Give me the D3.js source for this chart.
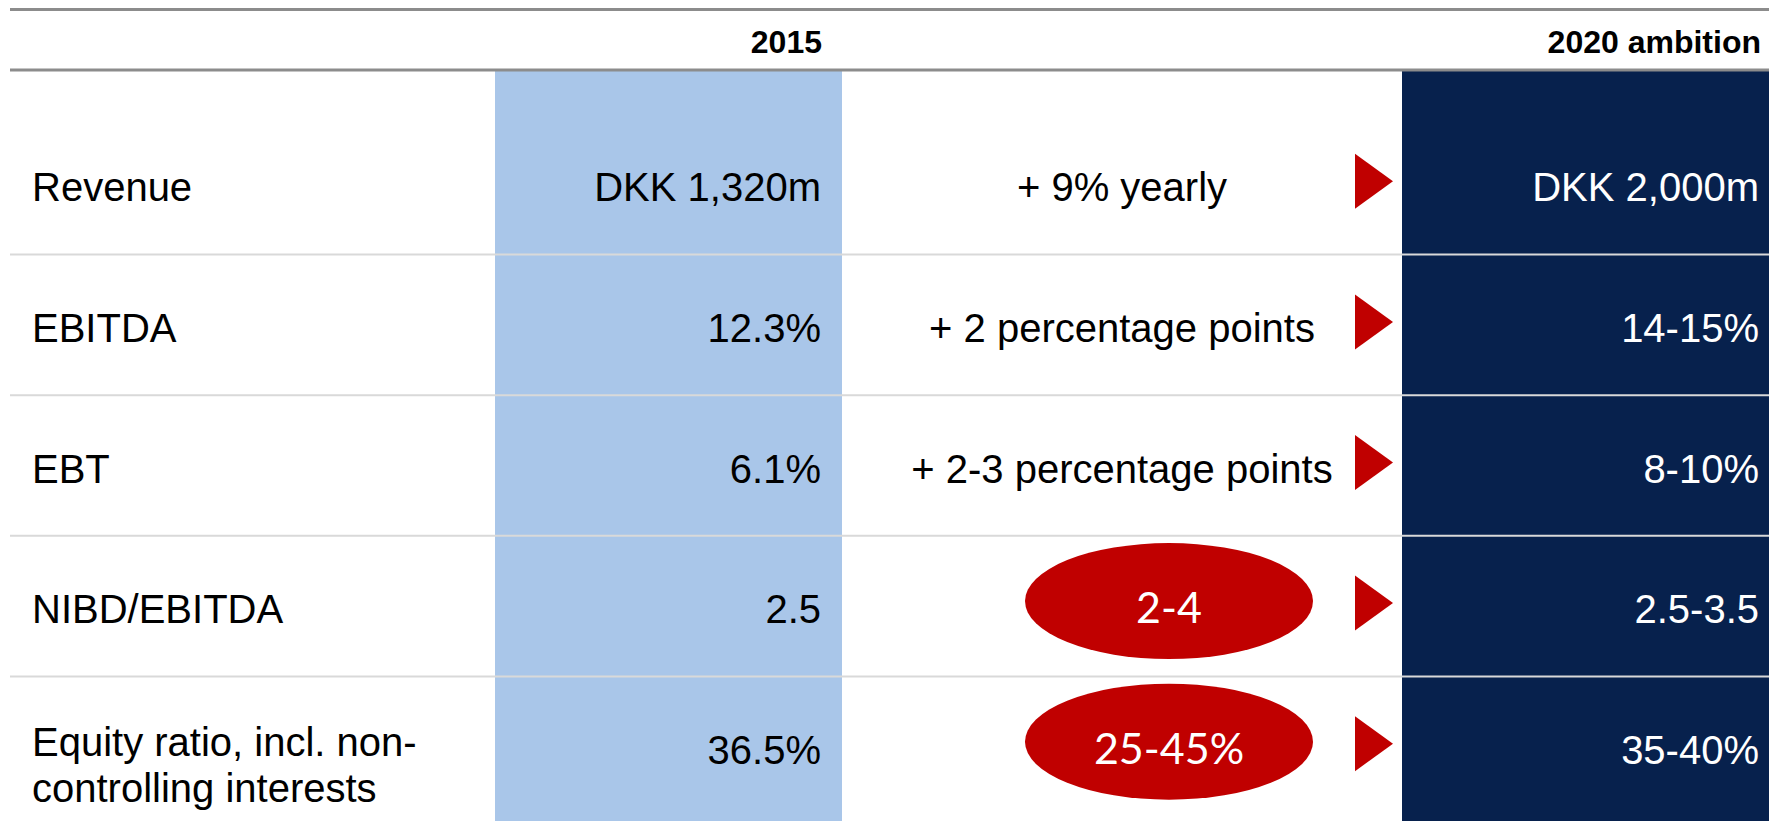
<!DOCTYPE html>
<html>
<head>
<meta charset="utf-8">
<script src="https://cdn.jsdelivr.net/npm/d3@7"></script>
<style>
  html, body { margin: 0; padding: 0; background: #ffffff; }
  svg { display: block; }
</style>
</head>
<body>
<svg id="chart" width="1769" height="821"></svg>
<script>
// ---- data ----
const rows = ["Revenue", "EBITDA", "EBT", "NIBD/EBITDA", "Equity"];
const rowLabels = [
  ["Revenue"],
  ["EBITDA"],
  ["EBT"],
  ["NIBD/EBITDA"],
  ["Equity ratio, incl. non-", "controlling interests"]
];
const columnHeaders = ["2015", "2020 ambition"];
const values2015 = ["DKK 1,320m", "12.3%", "6.1%", "2.5", "36.5%"];
const changes = ["+ 9% yearly", "+ 2 percentage points", "+ 2-3 percentage points", "2-4", "25-45%"];
const changeIsRange = [false, false, false, true, true];
const ambition2020 = ["DKK 2,000m", "14-15%", "8-10%", "2.5-3.5", "35-40%"];

// ---- layout ----
const W = 1769, H = 821;
const svg = d3.select("#chart");

const y = d3.scaleBand().domain(rows).range([114, 817]).padding(0);
const x = d3.scaleOrdinal()
  .domain(["ruleStart", "label", "col2015L", "col2015R", "mid", "range", "arrowL", "arrowR", "col2020L", "col2020R"])
  .range([10, 32, 495, 842, 1122, 1169, 1355, 1393, 1402, W]);

const headerY = 70, topY = 9.5;
const C = {
  rule: "#8c8c8c", sep: "#d9d9d9", light: "#a9c6e9", navy: "#07214d", red: "#c00000"
};
const FONT = "'Liberation Sans', Arial, sans-serif";

// column fills
svg.append("rect")
  .attr("x", x("col2015L")).attr("y", headerY)
  .attr("width", x("col2015R") - x("col2015L")).attr("height", H - headerY)
  .attr("fill", C.light);
svg.append("rect")
  .attr("x", x("col2020L")).attr("y", headerY)
  .attr("width", x("col2020R") - x("col2020L")).attr("height", H - headerY)
  .attr("fill", C.navy);

// row separators
const seps = rows.slice(1).map(r => y(r));
svg.selectAll("line.sep").data(seps).join("line")
  .attr("class", "sep")
  .attr("x1", x("ruleStart")).attr("x2", W)
  .attr("y1", d => d).attr("y2", d => d)
  .attr("stroke", C.sep).attr("stroke-width", 2);

// top rules
svg.selectAll("line.rule").data([topY, headerY]).join("line")
  .attr("class", "rule")
  .attr("x1", x("ruleStart")).attr("x2", W)
  .attr("y1", d => d).attr("y2", d => d)
  .attr("stroke", C.rule).attr("stroke-width", 3);

// headers
svg.selectAll("text.hdr").data(columnHeaders).join("text")
  .attr("class", "hdr")
  .attr("x", (d, i) => i === 0 ? x("col2015R") - 20 : x("col2020R") - 8)
  .attr("y", 52.5)
  .attr("text-anchor", "end")
  .attr("font-family", FONT).attr("font-weight", "bold").attr("font-size", 32)
  .attr("fill", "#000")
  .text(d => d);

const cy = r => y(r) + y.bandwidth() / 2;
const base = 17;

// row labels
const lg = svg.selectAll("g.label").data(rows).join("g").attr("class", "label");
lg.each(function (r, i) {
  const lines = rowLabels[i];
  const n = lines.length;
  d3.select(this).selectAll("text").data(lines).join("text")
    .attr("x", x("label"))
    .attr("y", (d, j) => cy(r) + base + (n - 1) * 15 + (j - (n - 1) / 2) * 46)
    .attr("font-family", FONT).attr("font-size", 40).attr("fill", "#000")
    .text(d => d);
});

// 2015 values
svg.selectAll("text.v2015").data(rows).join("text")
  .attr("class", "v2015")
  .attr("x", x("col2015R") - 21)
  .attr("y", r => cy(r) + base)
  .attr("text-anchor", "end")
  .attr("font-family", FONT).attr("font-size", 40).attr("fill", "#000")
  .text((r, i) => values2015[i]);

// changes (plain)
svg.selectAll("text.chg").data(rows.filter((r, i) => !changeIsRange[i])).join("text")
  .attr("class", "chg")
  .attr("x", x("mid"))
  .attr("y", r => cy(r) + base)
  .attr("text-anchor", "middle")
  .attr("font-family", FONT).attr("font-size", 40).attr("fill", "#000")
  .text(r => changes[rows.indexOf(r)]);

// changes (range ellipses)
const rangeRows = rows.filter((r, i) => changeIsRange[i]);
svg.selectAll("ellipse.rng").data(rangeRows).join("ellipse")
  .attr("class", "rng")
  .attr("cx", x("range")).attr("cy", r => cy(r) - 5)
  .attr("rx", 144).attr("ry", 58)
  .attr("fill", C.red);
svg.selectAll("text.rng").data(rangeRows).join("text")
  .attr("class", "rng")
  .attr("x", x("range"))
  .attr("y", r => cy(r) + 17)
  .attr("text-anchor", "middle")
  .attr("font-family", "Lato, 'Open Sans', sans-serif").attr("font-size", 43).attr("fill", "#fff")
  .text(r => changes[rows.indexOf(r)]);

// arrows
svg.selectAll("path.arrow").data(rows).join("path")
  .attr("class", "arrow")
  .attr("d", r => {
    const c = cy(r) - 3, l = x("arrowL"), rr = x("arrowR");
    return `M${l},${c - 27.5}L${rr},${c}L${l},${c + 27.5}Z`;
  })
  .attr("fill", C.red);

// 2020 ambition values
svg.selectAll("text.v2020").data(rows).join("text")
  .attr("class", "v2020")
  .attr("x", x("col2020R") - 10)
  .attr("y", r => cy(r) + base)
  .attr("text-anchor", "end")
  .attr("font-family", FONT).attr("font-size", 40).attr("fill", "#fff")
  .text((r, i) => ambition2020[i]);
</script>
</body>
</html>
